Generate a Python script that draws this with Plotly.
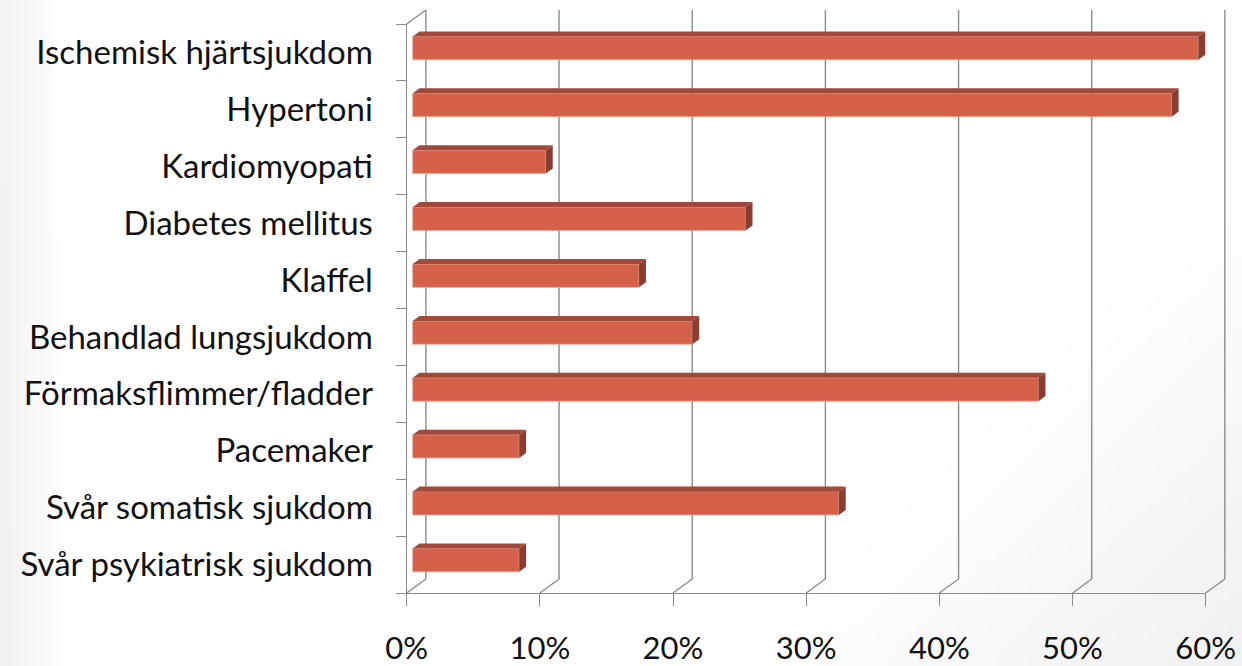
import base64
import struct
import zlib

import numpy as np
import plotly.graph_objects as go

# Comorbidity shares (percent), listed top to bottom
categories = [
    "Ischemisk hjärtsjukdom",
    "Hypertoni",
    "Kardiomyopati",
    "Diabetes mellitus",
    "Klaffel",
    "Behandlad lungsjukdom",
    "Förmaksflimmer/fladder",
    "Pacemaker",
    "Svår somatisk sjukdom",
    "Svår psykiatrisk sjukdom",
]
values = [59, 57, 10, 25, 17, 21, 47, 8, 32, 8]
x_ticks = [0, 10, 20, 30, 40, 50, 60]
x_ticktext = ["0%", "10%", "20%", "30%", "40%", "50%", "60%"]

W, H = 1242, 666
# front plane of the 3D box, in pixels
FX0, FX1 = 406.7, 1205.7
FY_TOP, FY_BOT = 24.0, 593.0
PX_PER_PCT = (FX1 - FX0) / 60.0
PX_PER_CAT = (FY_BOT - FY_TOP) / len(categories)

# depth of the box (front plane -> back wall), in pixels
DEPTH_PX = (19.2, 14.0)
ddx = DEPTH_PX[0] / PX_PER_PCT
ddy = DEPTH_PX[1] / PX_PER_CAT

n = len(categories)
y_idx = [n - 1 - k for k in range(n)]          # top category gets the highest index
y_lo, y_hi = -0.5, n - 0.5

GRID = "#8a8a8a"
FRONT = "#d5614b"
TOP = "#a24a39"
SIDE = "#8b3d2f"
FONT_Y = dict(family="Lato, Carlito, Calibri, sans-serif", size=33, color="#111111")
FONT_X = dict(family="Lato, Carlito, Calibri, sans-serif", size=31, color="#111111")


def slide_background(w, h):
    """Soft grey shading of the slide: left edge and lower-right corner."""
    xs = np.linspace(0, W, w)[None, :]
    ys = np.linspace(0, H, h)[:, None]
    left = np.clip(1 - xs / 55.0, 0, 1) * (0.8 + 0.2 * ys / H)
    corner = np.clip(((xs - 1000) / 242 + (ys - 430) / 236) / 2, 0, 1)
    shade = 255 - 14 * np.maximum(left, corner)
    img = np.repeat(shade[:, :, None], 3, axis=2).astype(np.uint8)
    raw = b"".join(b"\x00" + img[r].tobytes() for r in range(h))

    def chunk(tag, data):
        c = struct.pack(">I", len(data)) + tag + data
        return c + struct.pack(">I", zlib.crc32(tag + data) & 0xFFFFFFFF)

    png = (b"\x89PNG\r\n\x1a\n"
           + chunk(b"IHDR", struct.pack(">IIBBBBB", w, h, 8, 2, 0, 0, 0))
           + chunk(b"IDAT", zlib.compress(raw, 9))
           + chunk(b"IEND", b""))
    return "data:image/png;base64," + base64.b64encode(png).decode()


fig = go.Figure()

# full-figure drawing axes sharing the units of the front axes
x2_range = [-FX0 / PX_PER_PCT, (W - FX0) / PX_PER_PCT]
y2_range = [y_lo - (H - FY_BOT) / PX_PER_CAT, y_lo + FY_BOT / PX_PER_CAT]

# bar placement inside the box depth
f_pos = 0.31      # where the bar's front face sits within the box depth
b_dep = 0.36      # bar's own depth as a share of the box depth
bar_h = 23.3 / PX_PER_CAT
x_base = f_pos * ddx
bar_y = [y + f_pos * ddy for y in y_idx]

# dummy trace so the front axes are laid out
fig.add_trace(go.Scatter(x=[0, 60], y=[y_lo, y_hi], mode="markers",
                         marker=dict(opacity=0), hoverinfo="skip",
                         showlegend=False, xaxis="x", yaxis="y"))

# front faces of the bars
fig.add_trace(go.Bar(
    x=values, y=bar_y, base=x_base, orientation="h", width=bar_h,
    marker=dict(color=FRONT, line=dict(color="#eaa898", width=0.8)),
    showlegend=False, xaxis="x2", yaxis="y2", hoverinfo="skip",
))

# top and side faces
bx, by = b_dep * ddx, b_dep * ddy
for v, yc in zip(values, bar_y):
    x0, x1 = x_base, x_base + v
    yt, yb = yc + bar_h / 2, yc - bar_h / 2
    fig.add_trace(go.Scatter(
        x=[x0, x1, x1 + bx, x0 + bx, x0], y=[yt, yt, yt + by, yt + by, yt],
        fill="toself", fillcolor=TOP, mode="lines", line=dict(width=0, color=TOP),
        showlegend=False, hoverinfo="skip", xaxis="x2", yaxis="y2"))
    fig.add_trace(go.Scatter(
        x=[x1, x1, x1 + bx, x1 + bx, x1], y=[yt, yb, yb + by, yt + by, yt],
        fill="toself", fillcolor=SIDE, mode="lines", line=dict(width=0, color=SIDE),
        showlegend=False, hoverinfo="skip", xaxis="x2", yaxis="y2"))

# back-wall gridlines and floor diagonals
shapes = []
line = dict(color=GRID, width=1.4)
for g in x_ticks:
    shapes.append(dict(type="line", xref="x2", yref="y2", layer="below",
                       x0=g, y0=y_lo, x1=g + ddx, y1=y_lo + ddy, line=line))
    shapes.append(dict(type="line", xref="x2", yref="y2", layer="below",
                       x0=g + ddx, y0=y_lo + ddy, x1=g + ddx, y1=y_hi + ddy, line=line))
# top edge of the side wall
shapes.append(dict(type="line", xref="x2", yref="y2", layer="below",
                   x0=0, y0=y_hi, x1=ddx, y1=y_hi + ddy, line=line))

fig.update_layout(
    width=W, height=H,
    margin=dict(l=0, r=0, t=0, b=0, autoexpand=False),
    paper_bgcolor="white", plot_bgcolor="rgba(0,0,0,0)",
    shapes=shapes,
    images=[dict(source=slide_background(124, 67), xref="paper", yref="paper",
                 x=0, y=1, sizex=1, sizey=1, xanchor="left", yanchor="top",
                 sizing="stretch", layer="below")],
    xaxis=dict(
        domain=[FX0 / W, FX1 / W], range=[0, 60], anchor="y", automargin=False,
        showgrid=False, zeroline=False,
        showline=True, linecolor=GRID, linewidth=1.4,
        ticks="outside", ticklen=12, tickcolor=GRID, tickwidth=1.4,
        tickvals=x_ticks, ticktext=x_ticktext, tickfont=FONT_X,
        ticklabelstandoff=16,
    ),
    yaxis=dict(
        domain=[(H - FY_BOT) / H, (H - FY_TOP) / H], range=[y_lo, y_hi], anchor="x",
        automargin=False,
        showgrid=False, zeroline=False,
        showline=True, linecolor=GRID, linewidth=1.4,
        ticks="", tickvals=y_idx, ticktext=categories, tickfont=FONT_Y,
        ticklabelstandoff=26,
        minor=dict(ticks="outside", ticklen=10, tickcolor=GRID, tickwidth=1.4,
                   tickvals=[y_lo + k for k in range(n + 1)], showgrid=False),
    ),
    xaxis2=dict(domain=[0, 1], range=x2_range, anchor="y2", visible=False,
                automargin=False),
    yaxis2=dict(domain=[0, 1], range=y2_range, anchor="x2", visible=False,
                automargin=False),
)

fig.write_html("out.html")
